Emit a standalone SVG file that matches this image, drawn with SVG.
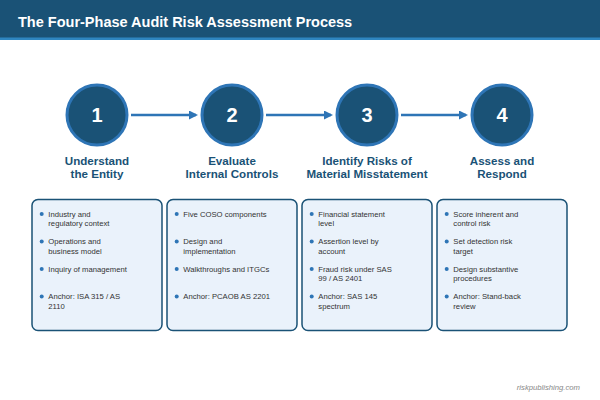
<svg xmlns="http://www.w3.org/2000/svg" width="600" height="400" viewBox="0 0 600 400">
<style>
.title{font-family:"Liberation Sans",Arial,sans-serif;font-weight:bold;font-size:14.5px;fill:#ffffff}
.circ{fill:#1a5276;stroke:#2e75b6;stroke-width:3}
.num{font-family:"Liberation Sans",Arial,sans-serif;font-weight:bold;font-size:20px;fill:#ffffff;text-anchor:middle}
.lbl{font-family:"Liberation Sans",Arial,sans-serif;font-weight:bold;font-size:11.6px;fill:#1a5276;text-anchor:middle}
.box{fill:#eaf2fb;stroke:#1a5276;stroke-width:1.5}
.dot{fill:#2e75b6}
.txt{font-family:"Liberation Sans",Arial,sans-serif;font-size:7.7px;fill:#333333}
.conn{stroke:#2e75b6;stroke-width:2.5;fill:none}
.foot{font-family:"Liberation Sans",Arial,sans-serif;font-style:italic;font-size:7.7px;fill:#888888;text-anchor:end}
</style>
<defs>
<marker id="ah" markerWidth="9" markerHeight="9" refX="7" refY="4.5" orient="auto" markerUnits="userSpaceOnUse">
<path d="M0,0 L9,4.5 L0,9 Z" fill="#2e75b6"/>
</marker>
</defs>
<rect width="600" height="400" fill="#ffffff"/>
<g id="header">
<rect x="0" y="0" width="600" height="38" fill="#1a5276"/>
<rect x="0" y="37.5" width="600" height="2.5" fill="#2e86c1"/>
<text class="title" x="18" y="27">The Four-Phase Audit Risk Assessment Process</text>
</g>
<g id="connectors">
<line class="conn" x1="131" y1="115" x2="196" y2="115" marker-end="url(#ah)"/>
<line class="conn" x1="266" y1="115" x2="331" y2="115" marker-end="url(#ah)"/>
<line class="conn" x1="401" y1="115" x2="466" y2="115" marker-end="url(#ah)"/>
</g>
<g id="phase1">
<circle class="circ" cx="97" cy="115" r="30"/>
<text class="num" x="97" y="122">1</text>
<text class="lbl" x="97" y="164.5">Understand</text>
<text class="lbl" x="97" y="178">the Entity</text>
<rect class="box" x="32" y="199.5" width="130" height="131" rx="6"/>
<circle class="dot" cx="41.7" cy="214" r="2"/>
<text class="txt" x="48.3" y="216.7">Industry and</text>
<text class="txt" x="48.3" y="226">regulatory context</text>
<circle class="dot" cx="41.7" cy="241.5" r="2"/>
<text class="txt" x="48.3" y="244.2">Operations and</text>
<text class="txt" x="48.3" y="253.5">business model</text>
<circle class="dot" cx="41.7" cy="269" r="2"/>
<text class="txt" x="48.3" y="271.7">Inquiry of management</text>
<circle class="dot" cx="41.7" cy="296.5" r="2"/>
<text class="txt" x="48.3" y="299.2">Anchor: ISA 315 / AS</text>
<text class="txt" x="48.3" y="308.5">2110</text>
</g>
<g id="phase2">
<circle class="circ" cx="232" cy="115" r="30"/>
<text class="num" x="232" y="122">2</text>
<text class="lbl" x="232" y="164.5">Evaluate</text>
<text class="lbl" x="232" y="178">Internal Controls</text>
<rect class="box" x="167" y="199.5" width="130" height="131" rx="6"/>
<circle class="dot" cx="176.7" cy="214" r="2"/>
<text class="txt" x="183.3" y="216.7">Five COSO components</text>
<circle class="dot" cx="176.7" cy="241.5" r="2"/>
<text class="txt" x="183.3" y="244.2">Design and</text>
<text class="txt" x="183.3" y="253.5">implementation</text>
<circle class="dot" cx="176.7" cy="269" r="2"/>
<text class="txt" x="183.3" y="271.7">Walkthroughs and ITGCs</text>
<circle class="dot" cx="176.7" cy="296.5" r="2"/>
<text class="txt" x="183.3" y="299.2">Anchor: PCAOB AS 2201</text>
</g>
<g id="phase3">
<circle class="circ" cx="367" cy="115" r="30"/>
<text class="num" x="367" y="122">3</text>
<text class="lbl" x="367" y="164.5">Identify Risks of</text>
<text class="lbl" x="367" y="178">Material Misstatement</text>
<rect class="box" x="302" y="199.5" width="130" height="131" rx="6"/>
<circle class="dot" cx="311.7" cy="214" r="2"/>
<text class="txt" x="318.3" y="216.7">Financial statement</text>
<text class="txt" x="318.3" y="226">level</text>
<circle class="dot" cx="311.7" cy="241.5" r="2"/>
<text class="txt" x="318.3" y="244.2">Assertion level by</text>
<text class="txt" x="318.3" y="253.5">account</text>
<circle class="dot" cx="311.7" cy="269" r="2"/>
<text class="txt" x="318.3" y="271.7">Fraud risk under SAS</text>
<text class="txt" x="318.3" y="281">99 / AS 2401</text>
<circle class="dot" cx="311.7" cy="296.5" r="2"/>
<text class="txt" x="318.3" y="299.2">Anchor: SAS 145</text>
<text class="txt" x="318.3" y="308.5">spectrum</text>
</g>
<g id="phase4">
<circle class="circ" cx="502" cy="115" r="30"/>
<text class="num" x="502" y="122">4</text>
<text class="lbl" x="502" y="164.5">Assess and</text>
<text class="lbl" x="502" y="178">Respond</text>
<rect class="box" x="437" y="199.5" width="130" height="131" rx="6"/>
<circle class="dot" cx="446.7" cy="214" r="2"/>
<text class="txt" x="453.3" y="216.7">Score inherent and</text>
<text class="txt" x="453.3" y="226">control risk</text>
<circle class="dot" cx="446.7" cy="241.5" r="2"/>
<text class="txt" x="453.3" y="244.2">Set detection risk</text>
<text class="txt" x="453.3" y="253.5">target</text>
<circle class="dot" cx="446.7" cy="269" r="2"/>
<text class="txt" x="453.3" y="271.7">Design substantive</text>
<text class="txt" x="453.3" y="281">procedures</text>
<circle class="dot" cx="446.7" cy="296.5" r="2"/>
<text class="txt" x="453.3" y="299.2">Anchor: Stand-back</text>
<text class="txt" x="453.3" y="308.5">review</text>
</g>
<text class="foot" x="580" y="390">riskpublishing.com</text>
</svg>
